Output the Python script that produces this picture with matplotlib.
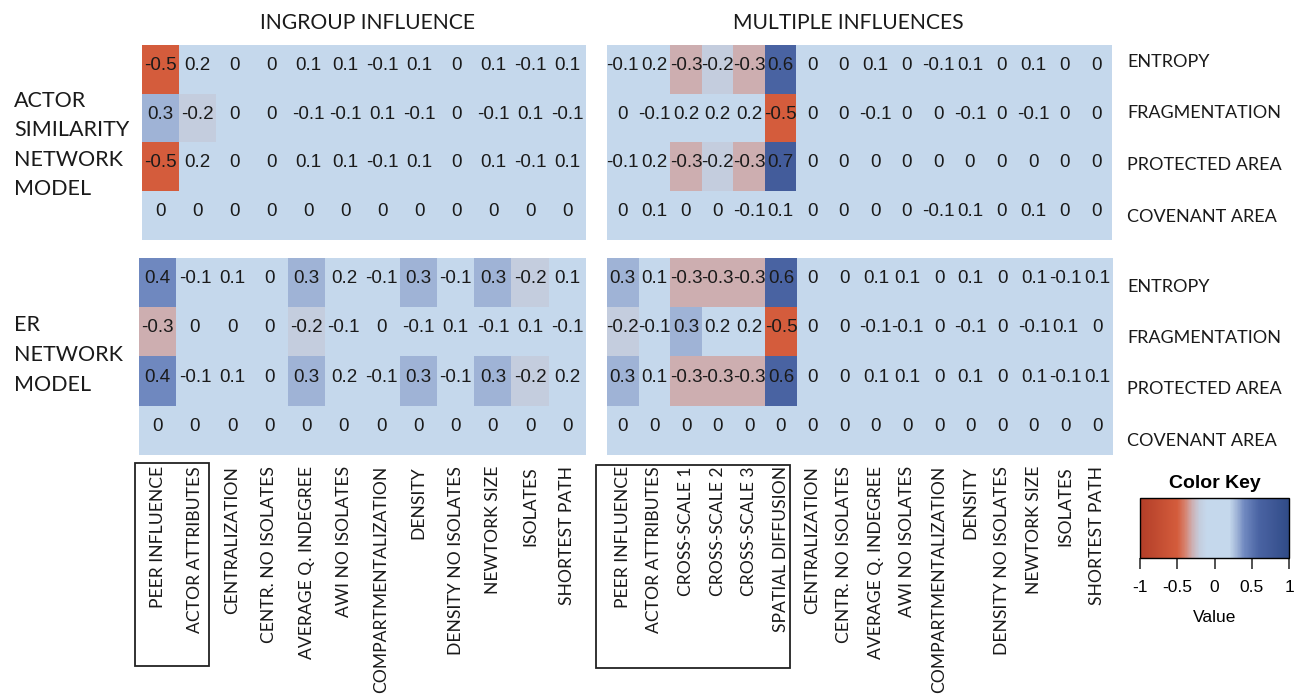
import numpy as np
import matplotlib
matplotlib.use("Agg")
import matplotlib.pyplot as plt
import matplotlib as mpl
from matplotlib.colors import LinearSegmentedColormap, Normalize
from matplotlib.patches import Rectangle

# ---- data ----
outcomes = ["ENTROPY", "FRAGMENTATION", "PROTECTED AREA", "COVENANT AREA"]

ingroup_cols = ["PEER INFLUENCE", "ACTOR ATTRIBUTES", "CENTRALIZATION", "CENTR. NO ISOLATES",
                "AVERAGE Q. INDEGREE", "AWI NO ISOLATES", "COMPARTMENTALIZATION", "DENSITY",
                "DENSITY NO ISOLATES", "NEWTORK SIZE", "ISOLATES", "SHORTEST PATH"]
multiple_cols = ["PEER INFLUENCE", "ACTOR ATTRIBUTES", "CROSS-SCALE 1", "CROSS-SCALE 2",
                 "CROSS-SCALE 3", "SPATIAL DIFFUSION", "CENTRALIZATION", "CENTR. NO ISOLATES",
                 "AVERAGE Q. INDEGREE", "AWI NO ISOLATES", "COMPARTMENTALIZATION", "DENSITY",
                 "DENSITY NO ISOLATES", "NEWTORK SIZE", "ISOLATES", "SHORTEST PATH"]

asn_ingroup = [
    [-0.5, 0.2, 0, 0, 0.1, 0.1, -0.1, 0.1, 0, 0.1, -0.1, 0.1],
    [0.3, -0.2, 0, 0, -0.1, -0.1, 0.1, -0.1, 0, -0.1, 0.1, -0.1],
    [-0.5, 0.2, 0, 0, 0.1, 0.1, -0.1, 0.1, 0, 0.1, -0.1, 0.1],
    [0, 0, 0, 0, 0, 0, 0, 0, 0, 0, 0, 0],
]
asn_multiple = [
    [-0.1, 0.2, -0.3, -0.2, -0.3, 0.6, 0, 0, 0.1, 0, -0.1, 0.1, 0, 0.1, 0, 0],
    [0, -0.1, 0.2, 0.2, 0.2, -0.5, 0, 0, -0.1, 0, 0, -0.1, 0, -0.1, 0, 0],
    [-0.1, 0.2, -0.3, -0.2, -0.3, 0.7, 0, 0, 0, 0, 0, 0, 0, 0, 0, 0],
    [0, 0.1, 0, 0, -0.1, 0.1, 0, 0, 0, 0, -0.1, 0.1, 0, 0.1, 0, 0],
]
er_ingroup = [
    [0.4, -0.1, 0.1, 0, 0.3, 0.2, -0.1, 0.3, -0.1, 0.3, -0.2, 0.1],
    [-0.3, 0, 0, 0, -0.2, -0.1, 0, -0.1, 0.1, -0.1, 0.1, -0.1],
    [0.4, -0.1, 0.1, 0, 0.3, 0.2, -0.1, 0.3, -0.1, 0.3, -0.2, 0.2],
    [0, 0, 0, 0, 0, 0, 0, 0, 0, 0, 0, 0],
]
er_multiple = [
    [0.3, 0.1, -0.3, -0.3, -0.3, 0.6, 0, 0, 0.1, 0.1, 0, 0.1, 0, 0.1, -0.1, 0.1],
    [-0.2, -0.1, 0.3, 0.2, 0.2, -0.5, 0, 0, -0.1, -0.1, 0, -0.1, 0, -0.1, 0.1, 0],
    [0.3, 0.1, -0.3, -0.3, -0.3, 0.6, 0, 0, 0.1, 0.1, 0, 0.1, 0, 0.1, -0.1, 0.1],
    [0, 0, 0, 0, 0, 0, 0, 0, 0, 0, 0, 0, 0, 0, 0, 0],
]

# ---- colour map (red - light blue - blue) ----
nodes = [
    (-1.0, (178, 62, 40)),
    (-0.5, (212, 92, 60)),
    (-0.4, (214, 128, 108)),
    (-0.3, (205, 175, 178)),
    (-0.2, (196, 205, 222)),
    (-0.1, (197, 216, 236)),
    (0.2, (197, 216, 236)),
    (0.3, (160, 180, 215)),
    (0.4, (112, 137, 192)),
    (0.6, (73, 99, 162)),
    (0.7, (68, 93, 156)),
    (1.0, (48, 75, 135)),
]
cmap = LinearSegmentedColormap.from_list(
    "key", [((v + 1) / 2, tuple(c / 255 for c in rgb)) for v, rgb in nodes])
norm = Normalize(-1, 1)

W, H = 1295, 696
fig = plt.figure(figsize=(W / 100, H / 100), dpi=100)

LAB_FONT = "Lato"
NUM_FONT = "Liberation Sans"
TXT = "#1a1a1a"


def px_axes(x0, y0, x1, y1):
    return fig.add_axes([x0 / W, 1 - y1 / H, (x1 - x0) / W, (y1 - y0) / H])


def heat(ax, data, cols=None):
    d = np.array(data, dtype=float)
    ax.imshow(d, cmap=cmap, norm=norm, aspect="auto", interpolation="nearest")
    for i in range(d.shape[0]):
        for j in range(d.shape[1]):
            v = d[i, j]
            s = "0" if v == 0 else f"{v:g}"
            ax.text(j, i - 0.08, s, ha="center", va="center", fontsize=13.5,
                    family=NUM_FONT, color=TXT)
    for sp in ax.spines.values():
        sp.set_visible(False)
    ax.set_yticks([])
    if cols is None:
        ax.set_xticks([])
    else:
        ax.set_xticks(range(len(cols)))
        ax.set_xticklabels(cols, rotation=90, fontsize=12.6, family=LAB_FONT, color=TXT)
        ax.tick_params(axis="x", length=0, pad=8)


heat(px_axes(142, 45, 586, 240), asn_ingroup)
heat(px_axes(607, 45, 1112, 240), asn_multiple)
heat(px_axes(139, 258, 586, 455), er_ingroup, ingroup_cols)
heat(px_axes(607, 258, 1113, 455), er_multiple, multiple_cols)

# panel titles
fig.text(368 / W, 1 - 23 / H, "INGROUP INFLUENCE", ha="center", va="center",
         fontsize=15.2, family=LAB_FONT, color=TXT)
fig.text(848 / W, 1 - 23 / H, "MULTIPLE INFLUENCES", ha="center", va="center",
         fontsize=15.2, family=LAB_FONT, color=TXT)

# model labels
fig.text(14 / W, 1 - 145 / H, "ACTOR\nSIMILARITY\nNETWORK\nMODEL", ha="left", va="center",
         fontsize=15.5, family=LAB_FONT, color=TXT, linespacing=1.6)
fig.text(14 / W, 1 - 355 / H, "ER\nNETWORK\nMODEL", ha="left", va="center",
         fontsize=15.5, family=LAB_FONT, color=TXT, linespacing=1.6)

# outcome labels on the right
row_y_top = [62, 113, 165, 217]
row_y_bot = [287, 338, 389, 441]
for ys in (row_y_top, row_y_bot):
    for y, lab in zip(ys, outcomes):
        fig.text(1127 / W, 1 - y / H, lab, ha="left", va="center",
                 fontsize=13, family=LAB_FONT, color=TXT)

# boxes around the influence labels
for x0, y0, x1, y1 in [(135, 463, 209, 666), (596, 465, 790, 668)]:
    fig.add_artist(Rectangle((x0 / W, 1 - y1 / H), (x1 - x0) / W, (y1 - y0) / H,
                             transform=fig.transFigure, fill=False,
                             edgecolor="#222222", linewidth=1.3))

# colour key
cax = px_axes(1140, 498, 1289, 558)
cb = fig.colorbar(mpl.cm.ScalarMappable(norm=norm, cmap=cmap), cax=cax,
                  orientation="horizontal", ticks=[-1, -0.5, 0, 0.5, 1])
cb.ax.set_xticklabels(["-1", "-0.5", "0", "0.5", "1"], family=NUM_FONT, fontsize=12.5)
cb.ax.tick_params(length=8, width=1.2, color="#333333", pad=8)
cb.outline.set_linewidth(1)
cb.ax.set_xlabel("Value", family=NUM_FONT, fontsize=12.5, labelpad=11)
cb.ax.set_title("Color Key", family=NUM_FONT, fontsize=14, fontweight="bold", pad=7)

fig.savefig("out.png", dpi=100, facecolor="white")
